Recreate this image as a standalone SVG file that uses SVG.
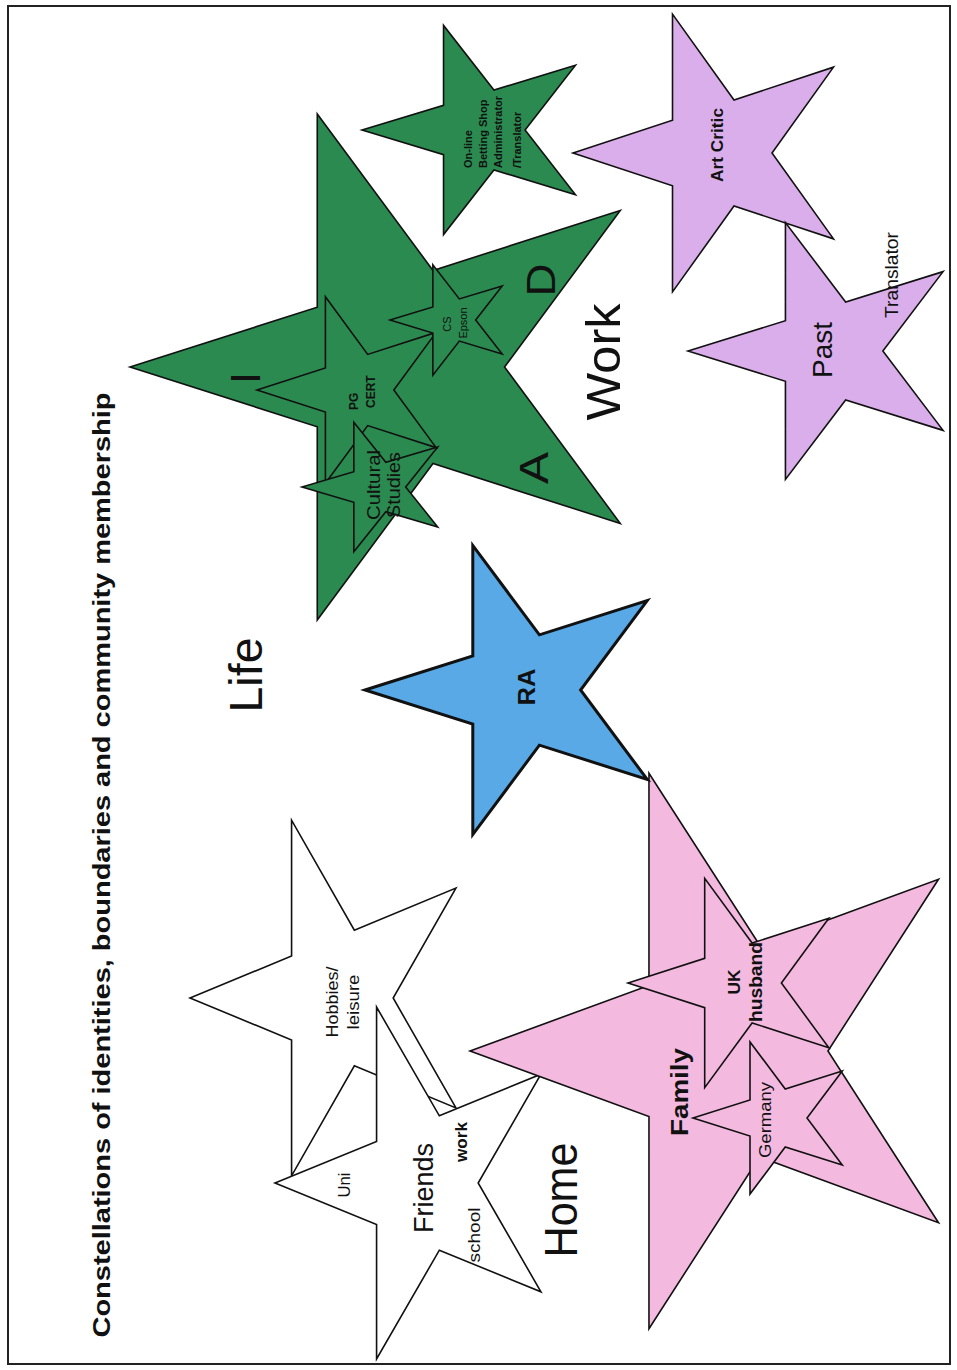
<svg xmlns="http://www.w3.org/2000/svg" xmlns:xlink="http://www.w3.org/1999/xlink" width="957" height="1370" viewBox="0 0 957 1370">
<style>
.t{font-family:"Liberation Sans",Arial,sans-serif;fill:#111;}
.b{font-weight:bold;}
.white{fill:#ffffff;stroke:#111;stroke-width:1.6;}
.green{fill:#2b8a4f;stroke:#111;stroke-width:1.6;}
.blue{fill:#58a9e6;stroke:#111;stroke-width:3;}
.pink{fill:#f3b9df;stroke:#111;stroke-width:1.6;}
.purple{fill:#d9aeea;stroke:#111;stroke-width:1.6;}
</style>
<defs>
<polygon id="star" vector-effect="non-scaling-stroke" points="-1,0 -0.309,-0.2246 -0.309,-0.951 0.118,-0.363 0.809,-0.588 0.382,0 0.809,0.588 0.118,0.363 -0.309,0.951 -0.309,0.2246"/>
</defs>
<rect x="0" y="0" width="957" height="1370" fill="#ffffff"/>
<rect id="frame" x="8" y="6" width="942" height="1358" fill="none" stroke="#222" stroke-width="2"/>

<text class="t b" transform="translate(110 865) rotate(-90)" text-anchor="middle" font-size="24" textLength="945" lengthAdjust="spacingAndGlyphs">Constellations of identities, boundaries and community membership</text>

<g id="star-hobbies">
<use xlink:href="#star" class="white" transform="translate(337 998) scale(147 187)"/>
<text class="t" transform="translate(338 1002) rotate(-90)" text-anchor="middle" font-size="16" textLength="71" lengthAdjust="spacingAndGlyphs">Hobbies/</text>
<text class="t" transform="translate(359 1002) rotate(-90)" text-anchor="middle" font-size="16" textLength="55" lengthAdjust="spacingAndGlyphs">leisure</text>
</g>
<g id="star-friends">
<use xlink:href="#star" class="white" transform="translate(422 1183) scale(147 185)"/>
<text class="t" transform="translate(433 1188) rotate(-90)" text-anchor="middle" font-size="27" textLength="90" lengthAdjust="spacingAndGlyphs">Friends</text>
<text class="t" transform="translate(350 1185) rotate(-90)" text-anchor="middle" font-size="16" textLength="25" lengthAdjust="spacingAndGlyphs">Uni</text>
<text class="t b" transform="translate(467 1142) rotate(-90)" text-anchor="middle" font-size="16" textLength="40" lengthAdjust="spacingAndGlyphs">work</text>
<text class="t" transform="translate(480 1235) rotate(-90)" text-anchor="middle" font-size="16" textLength="55" lengthAdjust="spacingAndGlyphs">school</text>
</g>

<g id="star-family">
<use xlink:href="#star" class="pink" transform="translate(729 1051) scale(259 292)"/>
<text class="t b" transform="translate(688 1092) rotate(-90)" text-anchor="middle" font-size="24" textLength="88" lengthAdjust="spacingAndGlyphs">Family</text>
</g>
<g id="star-uk-husband">
<use xlink:href="#star" class="pink" transform="translate(739 983) scale(111 110)"/>
<text class="t b" transform="translate(740 982) rotate(-90)" text-anchor="middle" font-size="17" textLength="25" lengthAdjust="spacingAndGlyphs">UK</text>
<text class="t b" transform="translate(762 982) rotate(-90)" text-anchor="middle" font-size="18" textLength="80" lengthAdjust="spacingAndGlyphs">husband</text>
</g>
<g id="star-germany">
<use xlink:href="#star" class="pink" transform="translate(775.5 1118) scale(82.5 80)"/>
<text class="t" transform="translate(771 1120) rotate(-90)" text-anchor="middle" font-size="17" textLength="76" lengthAdjust="spacingAndGlyphs">Germany</text>
</g>

<g id="star-ra">
<use xlink:href="#star" class="blue" transform="translate(521 690) scale(156 152)"/>
<text class="t b" transform="translate(535 687) rotate(-90)" text-anchor="middle" font-size="24" textLength="37" lengthAdjust="spacingAndGlyphs">RA</text>
</g>

<g id="star-iad">
<use xlink:href="#star" class="green" transform="translate(401 367) scale(271 266)"/>
<text class="t" transform="translate(260 378) rotate(-90)" text-anchor="middle" font-size="42">I</text>
<text class="t" transform="translate(548 468) rotate(-90)" text-anchor="middle" font-size="40" textLength="32" lengthAdjust="spacingAndGlyphs">A</text>
<text class="t" transform="translate(555 280) rotate(-90)" text-anchor="middle" font-size="40" textLength="33" lengthAdjust="spacingAndGlyphs">D</text>
</g>
<g id="star-betting">
<use xlink:href="#star" class="green" transform="translate(480 130) scale(118 110)"/>
<text class="t b" transform="translate(472 168) rotate(-90)" font-size="11">On-line</text>
<text class="t b" transform="translate(487 168) rotate(-90)" font-size="11">Betting Shop</text>
<text class="t b" transform="translate(502 168) rotate(-90)" font-size="11">Administrator</text>
<text class="t b" transform="translate(521 168) rotate(-90)" font-size="11">/Translator</text>
</g>
<g id="star-pgcert">
<use xlink:href="#star" class="green" transform="translate(356 390) scale(99 98)"/>
<text class="t b" transform="translate(358 410) rotate(-90)" font-size="12">PG</text>
<text class="t b" transform="translate(375 408) rotate(-90)" font-size="12">CERT</text>
</g>
<g id="star-cs-epson">
<use xlink:href="#star" class="green" transform="translate(452 320) scale(62 58)"/>
<text class="t" transform="translate(451 324) rotate(-90)" text-anchor="middle" font-size="11">CS</text>
<text class="t" transform="translate(467 323) rotate(-90)" text-anchor="middle" font-size="11">Epson</text>
</g>
<g id="star-cultural">
<use xlink:href="#star" class="green" transform="translate(377 487) scale(75 68)"/>
<text class="t" transform="translate(380 485) rotate(-90)" text-anchor="middle" font-size="19" textLength="70" lengthAdjust="spacingAndGlyphs">Cultural</text>
<text class="t" transform="translate(400 485) rotate(-90)" text-anchor="middle" font-size="19" textLength="66" lengthAdjust="spacingAndGlyphs">Studies</text>
</g>

<g id="star-art-critic">
<use xlink:href="#star" class="purple" transform="translate(717 153) scale(144 146)"/>
<text class="t b" transform="translate(723 145) rotate(-90)" text-anchor="middle" font-size="17" textLength="74" lengthAdjust="spacingAndGlyphs">Art Critic</text>
</g>
<g id="star-past">
<use xlink:href="#star" class="purple" transform="translate(829 351) scale(141 135)"/>
<text class="t" transform="translate(832 350) rotate(-90)" text-anchor="middle" font-size="27" textLength="56" lengthAdjust="spacingAndGlyphs">Past</text>
<text class="t" transform="translate(898 275) rotate(-90)" text-anchor="middle" font-size="18" textLength="86" lengthAdjust="spacingAndGlyphs">Translator</text>
</g>

<g id="labels">
<text class="t" transform="translate(262 675) rotate(-90)" text-anchor="middle" font-size="46" textLength="75" lengthAdjust="spacingAndGlyphs">Life</text>
<text class="t" transform="translate(620 362) rotate(-90)" text-anchor="middle" font-size="48" textLength="117" lengthAdjust="spacingAndGlyphs">Work</text>
<text class="t" transform="translate(577 1200) rotate(-90)" text-anchor="middle" font-size="46" textLength="115" lengthAdjust="spacingAndGlyphs">Home</text>
</g>
<g id="connectors"></g>
</svg>
